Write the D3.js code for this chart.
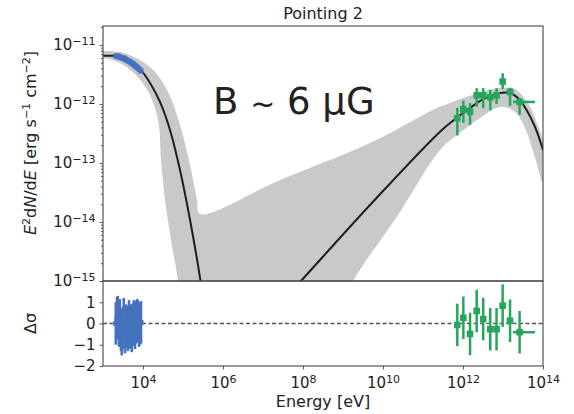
<html>
<meta charset="utf-8" />
<script src="https://d3js.org/d3.v7.min.js"></script>
<style>
  body { margin: 0; background: #fff; }
  text { font-family: "DejaVu Sans", sans-serif; fill: #222; }
</style>
<body>
<svg width="574" height="414" id="chart"></svg>
<script>
// ---- data ----
// model curve, synchrotron bump
const syncE = [1e3, 2.0e3, 3.55e3, 5.31e3, 8.41e3, 1.5e4, 2.66e4, 4.73e4, 8.41e4, 1.5e5, 2.74e5, 3.16e5];
const syncF = [6.52e-12, 6.52e-12, 6.03e-12, 5.15e-12, 3.92e-12, 2.27e-12, 1.08e-12, 3.62e-13, 7.6e-14, 1.08e-14, 1.0e-15, 4.8e-16];
// model curve, inverse compton bump
const icE = [4.73e7, 8.9e7, 4.73e9, 2.66e11, 6.9e11, 1.5e12, 2.66e12, 4.73e12, 8.41e12, 1.5e13, 2.37e13, 3.89e13, 6.31e13, 1e14];
const icF = [6.3e-16, 1.0e-15, 1.94e-14, 3.39e-13, 5.8e-13, 8.55e-13, 1.12e-12, 1.37e-12, 1.53e-12, 1.53e-12, 1.26e-12, 7.9e-13, 4.07e-13, 1.66e-13];

// uncertainty band
const bandUpE = [1e3, 2.66e3, 8.41e3, 2.0e4, 4.22e4, 8.41e4, 1.5e5, 2.24e5, 2.66e5, 2.66e7, 4.73e9, 2.24e11, 4.73e11, 1.5e12, 4.73e12, 1.12e13, 2.0e13, 2.66e13, 4.73e13, 7.08e13, 1e14];
const bandUpF = [7.91e-12, 7.6e-12, 5.57e-12, 3.48e-12, 1.6e-12, 4.4e-13, 9.2e-14, 2.36e-14, 1.37e-14, 5.15e-14, 2.18e-13, 8.55e-13, 1.04e-12, 1.37e-12, 1.73e-12, 1.87e-12, 1.79e-12, 1.53e-12, 8.9e-13, 4.76e-13, 2.27e-13];
const bandLoE = [1e3, 2.66e3, 6.31e3, 1.19e4, 1.88e4, 2.51e4, 2.82e4, 3.55e4, 5.01e4, 7.5e4, 1e5, 3.16e8, 1.78e9, 2.66e10, 2.66e11, 8.41e11, 2.66e12, 8.41e12, 2.0e13, 3.55e13, 6.31e13, 1e14];
const bandLoF = [6.03e-12, 4.95e-12, 3.22e-12, 1.87e-12, 9.6e-13, 4.4e-13, 1.12e-13, 2.36e-14, 4.95e-15, 1.0e-15, 1e-16, 1e-16, 1.0e-15, 1.48e-14, 1.66e-13, 3.24e-13, 5.8e-13, 8.9e-13, 7.3e-13, 3.92e-13, 1.22e-13, 4.58e-14];

// X-ray points (blue)
const xrayE = [2.09e3, 2.24e3, 2.34e3, 2.51e3, 2.63e3, 2.82e3, 2.95e3, 3.16e3, 3.31e3, 3.55e3, 3.72e3, 3.98e3, 4.17e3,
               4.47e3, 4.68e3, 5.01e3, 5.25e3, 5.62e3, 5.89e3, 6.31e3, 6.61e3, 7.08e3, 7.41e3, 7.94e3, 8.32e3, 8.91e3];
const xrayF = [6.5e-12, 6.4e-12, 6.5e-12, 6.3e-12, 6.2e-12, 6.1e-12, 6.1e-12, 5.9e-12, 6.0e-12, 5.8e-12, 5.6e-12, 5.5e-12, 5.4e-12,
               5.3e-12, 5.2e-12, 5.0e-12, 4.9e-12, 4.8e-12, 4.6e-12, 4.5e-12, 4.3e-12, 4.2e-12, 4.1e-12, 3.9e-12, 3.8e-12, 3.6e-12];
const xrayErr = [0.25e-12, 0.25e-12, 0.25e-12, 0.24e-12, 0.24e-12, 0.23e-12, 0.23e-12, 0.22e-12, 0.22e-12, 0.22e-12, 0.21e-12, 0.21e-12, 0.2e-12,
                 0.2e-12, 0.2e-12, 0.19e-12, 0.19e-12, 0.18e-12, 0.18e-12, 0.17e-12, 0.17e-12, 0.16e-12, 0.16e-12, 0.15e-12, 0.15e-12, 0.14e-12];
const xrayRes = [0.0, 0.25, 0.3, -0.1, 0.15, -0.3, -0.5, -0.2, 0.2, -0.4, -0.1, -0.15, -0.3,
                 0.1, -0.2, -0.1, -0.35, -0.05, 0.1, -0.2, 0.05, 0.15, 0.1, -0.1, 0.0, 0.05];

// gamma-ray points (green)
const gamE = [7.2e11, 1.02e12, 1.5e12, 2.2e12, 3.2e12, 4.8e12, 6.9e12, 9.8e12, 1.5e13, 2.6e13];
const gamF = [5.73e-13, 8.13e-13, 7.4e-13, 1.4e-12, 1.4e-12, 1.29e-12, 1.4e-12, 2.39e-12, 1.6e-12, 1.08e-12];
const gamLo = [2.92e-13, 4.76e-13, 4.41e-13, 9.0e-13, 8.45e-13, 7.76e-13, 1.0e-12, 1.79e-12, 9.24e-13, 6.52e-13];
const gamHi = [8.55e-13, 1.14e-12, 1.03e-12, 1.85e-12, 1.85e-12, 1.73e-12, 1.85e-12, 3.31e-12, 1.88e-12, 1.26e-12];
const gamElo = [null, null, null, null, null, null, null, null, null, 1.78e13];
const gamEhi = [null, null, null, null, null, null, null, null, null, 6.3e13];
const gamRes = [-0.07, 0.27, -0.49, 0.59, 0.21, -0.27, -0.27, 0.84, 0.13, -0.41];

const xTicks = [1e4, 1e6, 1e8, 1e10, 1e12, 1e14];
const yTicks = [1e-15, 1e-14, 1e-13, 1e-12, 1e-11];
const rTicks = [-2, -1, 0, 1];

// ---- layout ----
const svg = d3.select("#chart");
const left = 103, right = 543, topY = 26, midY = 281, botY = 366;
const blue = "#4572bd", green = "#27a65b", band = "#c9c9c9";

const xScale = d3.scaleLog().domain([1e3, 1e14]).range([left, right]);
const yScale = d3.scaleLog().domain([1e-15, Math.pow(10, -10.68)]).range([midY, topY]);
const rScale = d3.scaleLinear().domain([-2, 2]).range([botY, midY]);

svg.append("clipPath").attr("id", "clipTop")
  .append("rect").attr("x", left).attr("y", topY).attr("width", right - left).attr("height", midY - topY);
svg.append("clipPath").attr("id", "clipBot")
  .append("rect").attr("x", left).attr("y", midY).attr("width", right - left).attr("height", botY - midY);

const topG = svg.append("g").attr("clip-path", "url(#clipTop)");
const botG = svg.append("g").attr("clip-path", "url(#clipBot)");

// band
const ring = d3.zip(bandUpE, bandUpF).concat(d3.zip(bandLoE, bandLoF).reverse());
const ringLine = d3.line()
  .x((d) => xScale(d[0]))
  .y((d) => yScale(d[1]))
  .curve(d3.curveCatmullRom.alpha(0.5));
topG.append("path").attr("d", ringLine(ring) + "Z").attr("fill", band);

// model
const modelLine = d3.line()
  .x((d) => xScale(d[0]))
  .y((d) => yScale(d[1]))
  .curve(d3.curveCatmullRom.alpha(0.5));
[d3.zip(syncE, syncF), d3.zip(icE, icF)].forEach((pts) => {
  topG.append("path").attr("d", modelLine(pts))
    .attr("fill", "none").attr("stroke", "#1e1e1e").attr("stroke-width", 2);
});

// x-ray points
xrayE.forEach((e, i) => {
  const x = xScale(e);
  topG.append("line").attr("x1", x).attr("x2", x)
    .attr("y1", yScale(xrayF[i] - xrayErr[i])).attr("y2", yScale(xrayF[i] + xrayErr[i]))
    .attr("stroke", blue).attr("stroke-width", 2);
  topG.append("rect").attr("x", x - 2.5).attr("y", yScale(xrayF[i]) - 2.5)
    .attr("width", 5).attr("height", 5).attr("fill", blue);
});

// gamma points
gamE.forEach((e, i) => {
  const x = xScale(e);
  topG.append("line").attr("x1", x).attr("x2", x)
    .attr("y1", yScale(gamLo[i])).attr("y2", yScale(gamHi[i]))
    .attr("stroke", green).attr("stroke-width", 2.5);
  if (gamElo[i]) {
    topG.append("line").attr("x1", xScale(gamElo[i])).attr("x2", xScale(gamEhi[i]))
      .attr("y1", yScale(gamF[i])).attr("y2", yScale(gamF[i]))
      .attr("stroke", green).attr("stroke-width", 2.5);
  }
  topG.append("rect").attr("x", x - 3.3).attr("y", yScale(gamF[i]) - 3.3)
    .attr("width", 6.6).attr("height", 6.6).attr("fill", green);
});

// residuals
botG.append("line").attr("x1", left).attr("x2", right)
  .attr("y1", rScale(0)).attr("y2", rScale(0))
  .attr("stroke", "#555").attr("stroke-width", 1.3).attr("stroke-dasharray", "4,2.5");

xrayE.forEach((e, i) => {
  const x = xScale(e);
  botG.append("line").attr("x1", x).attr("x2", x)
    .attr("y1", rScale(xrayRes[i] - 1)).attr("y2", rScale(xrayRes[i] + 1))
    .attr("stroke", blue).attr("stroke-width", 2.6);
  botG.append("rect").attr("x", x - 2.5).attr("y", rScale(xrayRes[i]) - 2.5)
    .attr("width", 5).attr("height", 5).attr("fill", blue);
});

gamE.forEach((e, i) => {
  const x = xScale(e);
  botG.append("line").attr("x1", x).attr("x2", x)
    .attr("y1", rScale(gamRes[i] - 1)).attr("y2", rScale(gamRes[i] + 1))
    .attr("stroke", green).attr("stroke-width", 2.5);
  if (gamElo[i]) {
    botG.append("line").attr("x1", xScale(gamElo[i])).attr("x2", xScale(gamEhi[i]))
      .attr("y1", rScale(gamRes[i])).attr("y2", rScale(gamRes[i]))
      .attr("stroke", green).attr("stroke-width", 2.5);
  }
  botG.append("rect").attr("x", x - 3.3).attr("y", rScale(gamRes[i]) - 3.3)
    .attr("width", 6.6).attr("height", 6.6).attr("fill", green);
});

// ---- axes ----
function supLabel(sel, d) {
  const t = sel.select("text").text(null).attr("fill", "#222");
  t.append("tspan").text("10");
  t.append("tspan").attr("dy", "-0.5em").attr("font-size", "11px")
    .text(String(Math.round(Math.log10(d))).replace("-", "\u2212"));
}

const yMinor = [];
for (let p = -15; p <= -11; p++) for (let k = 2; k <= 9; k++) {
  const v = k * Math.pow(10, p);
  if (v < yScale.domain()[1]) yMinor.push(v);
}

const yMinG = svg.append("g").attr("transform", `translate(${left},0)`)
  .call(d3.axisLeft(yScale).tickValues(yMinor).tickSize(2).tickSizeOuter(0).tickFormat(""));
yMinG.select(".domain").remove();

const yAx = svg.append("g").attr("transform", `translate(${left},0)`)
  .call(d3.axisLeft(yScale).tickValues(yTicks).tickSize(3.5).tickSizeOuter(0).tickPadding(4).tickFormat(""));
yAx.select(".domain").remove();
yAx.attr("font-family", null).attr("font-size", 15);
yAx.selectAll(".tick").each(function (d) { supLabel(d3.select(this), d); });

const rAx = svg.append("g").attr("transform", `translate(${left},0)`)
  .call(d3.axisLeft(rScale).tickValues(rTicks).tickSize(3.5).tickSizeOuter(0).tickPadding(4)
    .tickFormat((d) => String(d).replace("-", "\u2212")));
rAx.select(".domain").remove();
rAx.attr("font-family", null).attr("font-size", 15);
rAx.selectAll("text").attr("fill", "#222");

const xAx = svg.append("g").attr("transform", `translate(0,${botY})`)
  .call(d3.axisBottom(xScale).tickValues(xTicks).tickSize(3.5).tickSizeOuter(0).tickPadding(3).tickFormat(""));
xAx.select(".domain").remove();
xAx.attr("font-family", null).attr("font-size", 15);
xAx.selectAll(".tick").each(function (d) {
  supLabel(d3.select(this), d);
  d3.select(this).select("text").attr("dy", "1.05em");
});

svg.selectAll(".tick line").attr("stroke", "#444").attr("stroke-width", 0.9);

// frames
[[topY, midY], [midY, botY]].forEach(([a, b]) => {
  svg.append("rect").attr("x", left).attr("y", a).attr("width", right - left).attr("height", b - a)
    .attr("fill", "none").attr("stroke", "#444").attr("stroke-width", 1.1);
});

// ---- labels ----
svg.append("text").attr("x", (left + right) / 2).attr("y", 19)
  .attr("text-anchor", "middle").attr("font-size", 16).text("Pointing 2");

svg.append("text").attr("x", (left + right) / 2).attr("y", 407)
  .attr("text-anchor", "middle").attr("font-size", 16).text("Energy [eV]");

const yl = svg.append("text").attr("transform", "translate(36,143) rotate(-90)")
  .attr("text-anchor", "middle").attr("font-size", 16);
yl.append("tspan").attr("font-style", "italic").text("E");
yl.append("tspan").attr("dy", -6).attr("font-size", 11).text("2");
yl.append("tspan").attr("dy", 6).text("d");
yl.append("tspan").attr("font-style", "italic").text("N");
yl.append("tspan").text("/d");
yl.append("tspan").attr("font-style", "italic").text("E");
yl.append("tspan").text(" [erg s");
yl.append("tspan").attr("dy", -6).attr("font-size", 11).text("\u22121");
yl.append("tspan").attr("dy", 6).text(" cm");
yl.append("tspan").attr("dy", -6).attr("font-size", 11).text("\u22122");
yl.append("tspan").attr("dy", 6).text("]");

svg.append("text").attr("transform", `translate(36,${rScale(0)}) rotate(-90)`)
  .attr("text-anchor", "middle").attr("font-size", 16).text("\u0394\u03c3");

const bText = svg.append("text").attr("x", 213).attr("y", 114)
  .attr("font-family", "Lato, 'Open Sans', sans-serif").attr("font-size", 37)
  .attr("fill", "#000");
bText.append("tspan").text("B ");
bText.append("tspan").attr("font-size", 30).text("~");
bText.append("tspan").text(" 6 \u03bcG");
</script>
</body>
</html>
